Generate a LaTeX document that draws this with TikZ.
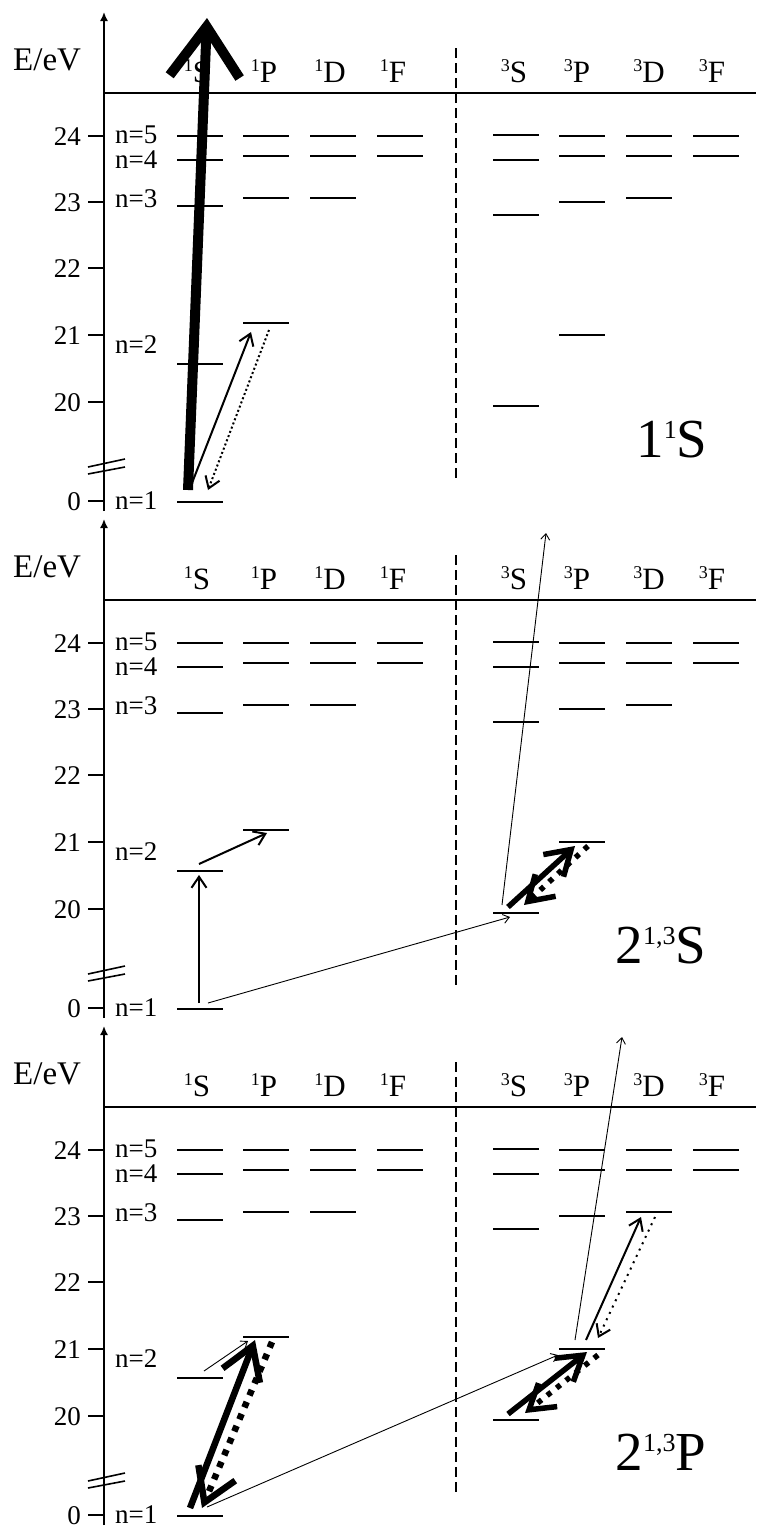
\documentclass[tikz,border=0pt]{standalone}
\usepackage{fontspec}
\setmainfont{Liberation Serif}
\usetikzlibrary{arrows.meta}
\newcommand\termlab[2]{\raisebox{11pt}{\fontsize{18}{18}\selectfont #1}#2}
\newcommand\biglab[3]{#1\raisebox{19pt}{\fontsize{26}{26}\selectfont #2}#3}
\tikzset{
 lvl/.style={line width=1.6pt},
 ax/.style={line width=1.6pt},
 small/.style={font=\fontsize{27}{27}\selectfont},
 term/.style={font=\fontsize{31}{31}\selectfont, anchor=base, inner sep=0pt},
 biglabel/.style={font=\fontsize{55}{55}\selectfont, anchor=base, inner sep=0pt},
 thinarr/.style={line width=0.9pt, -{Straight Barb[length=6pt,width=9pt]}},
 medarr/.style={line width=2pt, -{Straight Barb[length=11pt,width=15pt]}},
 meddot/.style={medarr, dash pattern=on 2pt off 2.5pt},
 thickarr/.style={line width=5.5pt, -{Straight Barb[length=24pt,width=30pt]}},
 thickdot/.style={thickarr, dash pattern=on 5pt off 7pt},
 fatarr/.style={line width=6.5pt, -{Straight Barb[length=32pt,width=40pt]}},
 fatdot/.style={fatarr, dash pattern=on 6pt off 7pt},
 hugearr/.style={line width=10pt, -{Straight Barb[length=50pt,width=70pt]}},
 sep/.style={line width=1.4pt, dash pattern=on 10pt off 5pt},
}
\begin{document}
\begin{tikzpicture}[x=1pt,y=-1pt]
\path[use as bounding box, fill=white] (0,0) rectangle (756,1527);
\foreach \o/\p in {0/a,507/b,1014/c}{
  % axis
  \coordinate (axb\p) at (104,\o+511);
  \coordinate (axt\p) at (104,\o+12);
  \draw[ax,-{Latex[length=9pt,width=8pt]}] (axb\p) -- (axt\p);
  \coordinate (hl\p) at (104,\o+93);
  \coordinate (hr\p) at (756,\o+93);
  \draw[ax] (hl\p) -- (hr\p);
  \coordinate (st\p) at (456,\o+48);
  \coordinate (sb\p) at (456,\o+480);
  \draw[sep] (st\p) -- (sb\p);
  % break
  \coordinate (bk1\p) at (88,\o+467); \coordinate (bk2\p) at (125,\o+459);
  \coordinate (bk3\p) at (88,\o+474); \coordinate (bk4\p) at (125,\o+467);
  \draw[ax] (bk1\p) -- (bk2\p);
  \draw[ax] (bk3\p) -- (bk4\p);
  \node[small, anchor=base west, inner sep=0pt, font=\fontsize{33}{33}\selectfont] (E\p) at (13,\o+70) {E/eV};
  % ticks
  \foreach \ty/\tl in {136/24,202/23,268/22,335/21,402/20,501/0}{
    \coordinate (tk\p\tl) at (88,\o+\ty);
    \draw[ax] (tk\p\tl) -- ++(16,0);
    \node[small, anchor=base east, inner sep=0pt] (tl\p\tl) at (81,\o+\ty+9) {\tl};
  }
  \foreach \ny/\nn in {143/5,168/4,207/3,353/2,509/1}{
    \node[small, anchor=base west, inner sep=0pt] (n\p\nn) at (115,\o+\ny) {n=\nn};
  }
  % term labels
  \node[term] (t1S\p) at (197,\o+82) {\termlab{1}{S}};
  \node[term] (t1P\p) at (264,\o+82) {\termlab{1}{P}};
  \node[term] (t1D\p) at (330,\o+82) {\termlab{1}{D}};
  \node[term] (t1F\p) at (393,\o+82) {\termlab{1}{F}};
  \node[term] (t3S\p) at (514,\o+82) {\termlab{3}{S}};
  \node[term] (t3P\p) at (577,\o+82) {\termlab{3}{P}};
  \node[term] (t3D\p) at (649,\o+82) {\termlab{3}{D}};
  \node[term] (t3F\p) at (712,\o+82) {\termlab{3}{F}};
  % levels
  \foreach \lx/\ly/\ln in {177/136/sa,177/160/sb,177/206/sc,177/364/sd,177/502/se,
     243/136/pa,243/156/pb,243/198/pc,243/323/pd,
     310/136/da,310/156/db,310/198/dc,
     377/136/fa,377/156/fb,
     493/135/Sa,493/160/Sb,493/215/Sc,493/406/Sd,
     559/136/Pa,559/156/Pb,559/202/Pc,559/335/Pd,
     626/136/Da,626/156/Db,626/198/Dc,
     693/136/Fa,693/156/Fb}{
    \coordinate (L\p\ln) at (\lx,\o+\ly);
    \draw[lvl] (L\p\ln) -- ++(46,0);
  }
}
% panel 1
\node[biglabel] (lab1) at (672,457) {\biglab{1}{1}{S}};
\coordinate (a1) at (188,490); \coordinate (a2) at (207,18);
\coordinate (a3) at (192,483); \coordinate (a4) at (251,332);
\coordinate (a5) at (269,330); \coordinate (a6) at (208,490);
\draw[hugearr] (a1) -- (a2);
\draw[medarr] (a3) -- (a4);
\draw[meddot] (a5) -- (a6);
% panel 2
\node[biglabel] (lab2) at (661,963) {\biglab{2}{1,3}{S}};
\coordinate (b1) at (199,1003); \coordinate (b2) at (199,875);
\coordinate (b3) at (199,864); \coordinate (b4) at (267,833);
\coordinate (b5) at (208,1003); \coordinate (b6) at (510,917);
\coordinate (b7) at (502,905); \coordinate (b8) at (546,533);
\coordinate (b9) at (508,907); \coordinate (b10) at (575,846);
\coordinate (b11) at (588,846); \coordinate (b12) at (524,905);
\draw[medarr] (b1) -- (b2);
\draw[medarr] (b3) -- (b4);
\draw[thinarr] (b5) -- (b6);
\draw[thinarr] (b7) -- (b8);
\draw[thickarr] (b9) -- (b10);
\draw[thickdot] (b11) -- (b12);
% panel 3
\node[biglabel] (lab3) at (661,1470) {\biglab{2}{1,3}{P}};
\coordinate (c1) at (204,1371); \coordinate (c2) at (248,1341);
\coordinate (c3) at (190,1508); \coordinate (c4) at (255,1340);
\coordinate (c5) at (272,1342); \coordinate (c6) at (202,1508);
\coordinate (c7) at (207,1507); \coordinate (c8) at (558,1355);
\coordinate (c9) at (575,1340); \coordinate (c10) at (622,1037);
\coordinate (c11) at (586,1340); \coordinate (c12) at (641,1217);
\coordinate (c13) at (655,1217); \coordinate (c14) at (598,1338);
\coordinate (c15) at (508,1414); \coordinate (c16) at (587,1352);
\coordinate (c17) at (598,1355); \coordinate (c18) at (525,1413);
\draw[thinarr] (c1) -- (c2);
\draw[fatarr] (c3) -- (c4);
\draw[fatdot] (c5) -- (c6);
\draw[thinarr] (c7) -- (c8);
\draw[thinarr] (c9) -- (c10);
\draw[medarr] (c11) -- (c12);
\draw[meddot, dash pattern=on 2pt off 5pt] (c13) -- (c14);
\draw[thickarr] (c15) -- (c16);
\draw[thickdot] (c17) -- (c18);
\end{tikzpicture}
\end{document}
